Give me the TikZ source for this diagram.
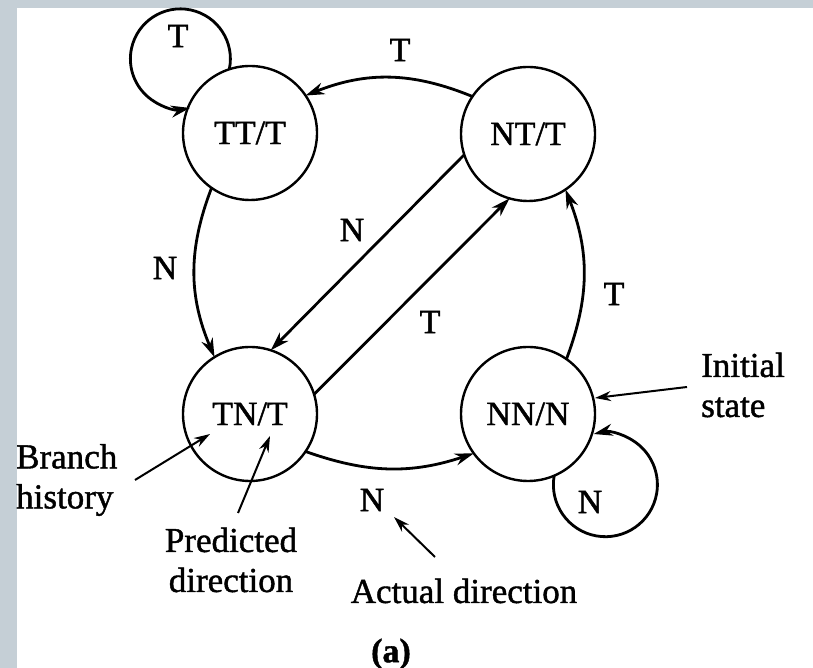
\documentclass[tikz,border=0pt]{standalone}
\usepackage{fontspec}
\setmainfont{Liberation Serif}[FakeBold=1.2]
\usetikzlibrary{arrows.meta}
\definecolor{bandgray}{RGB}{197,207,214}
\begin{document}
\begin{tikzpicture}[x=1pt,y=1pt,
  state/.style={circle,draw,line width=2.4pt,minimum size=134pt,inner sep=0pt,outer sep=0pt,font=\fontsize{34}{39}\selectfont},
  lbl/.style={font=\fontsize{34}{39}\selectfont,inner sep=0pt},
  ann/.style={font=\fontsize{35}{40}\selectfont,inner sep=0pt},
  edge/.style={line width=2.8pt,-{Stealth[length=19pt,width=12pt]}},
  note/.style={line width=2pt,-{Stealth[length=16pt,width=10pt]}}]
\fill[bandgray] (0,0) rectangle (813,668);
\fill[white] (17,0) rectangle (813,660);
\useasboundingbox (0,0) rectangle (813,668);
% states
\node[state] (tt) at (250,535) {TT/T};
\node[state] (nt) at (528,534) {NT/T};
\node[state] (tn) at (250,254) {TN/T};
\node[state] (nn) at (528,254) {NN/N};
% self loops
\draw[edge] (tt.108) arc[start angle=-12, end angle=281, radius=50];
\draw[edge] (nn.-67) arc[start angle=170, end angle=463, radius=52];
% transitions
\draw[edge] (nt.146) to[bend right=22] (tt.34);
\draw[edge] (tt.235) to[bend right=22] (tn.122);
\draw[edge] (nn.55) to[bend right=21] (nt.-56);
\draw[edge] (tn.-34) to[bend right=19] (nn.216);
\draw[edge] (nt.198) -- (tn.72);
\draw[edge] (tn.17) -- (nt.254);
% edge labels
\node[lbl] (l1) at (178,632) {T};
\node[lbl] (l2) at (400,618) {T};
\node[lbl] (l3) at (165,400) {N};
\node[lbl] (l4) at (352,438) {N};
\node[lbl] (l5) at (430,346) {T};
\node[lbl] (l6) at (614,374) {T};
\node[lbl] (l7) at (372,168) {N};
\node[lbl] (l8) at (590,166) {N};
% annotations
\node[ann,align=left,anchor=west] (bh) at (16,188) {Branch\\history};
\node[ann,align=center] (pd) at (231,108) {Predicted\\direction};
\node[ann] (ad) at (464,77) {Actual direction};
\node[ann,align=left,anchor=west] (is) at (701,283) {Initial\\state};
\coordinate (bhs) at (135,188);
\coordinate (bht) at (210,234);
\coordinate (pds) at (238,155);
\coordinate (pdt) at (270,232);
\coordinate (ads) at (435,111);
\coordinate (adt) at (394,151);
\coordinate (iss) at (687,281);
\coordinate (ist) at (595,270);
\draw[note] (bhs) -- (bht);
\draw[note] (pds) -- (pdt);
\draw[note] (ads) -- (adt);
\draw[note] (iss) -- (ist);
% caption
\node[font=\fontsize{34}{39}\selectfont\bfseries,inner sep=0pt] (cap) at (391,14) {(a)};
\end{tikzpicture}
\end{document}
